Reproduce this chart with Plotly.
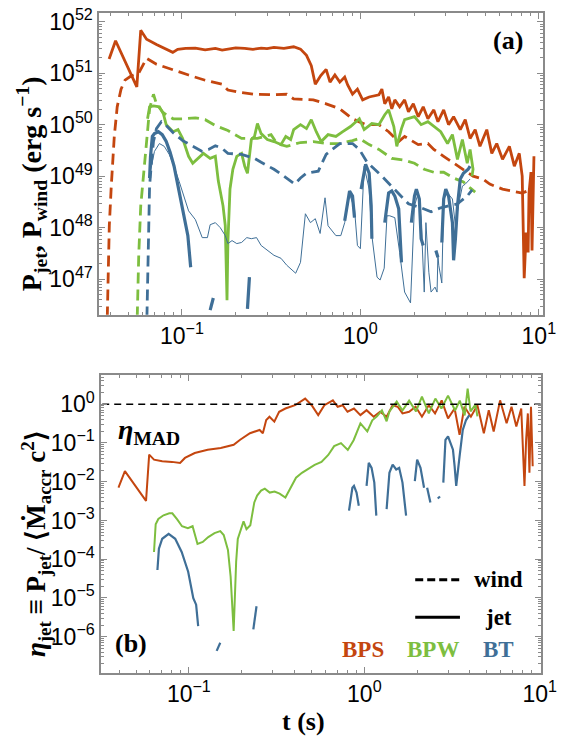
import math
import plotly.graph_objects as go

# ---------------- panel (a): jet / wind power (erg/s) vs t (s) ----------------
bps_jet_t = [0.0391, 0.0425, 0.0559, 0.0588, 0.0634, 0.0720, 0.0889, 0.0947, 0.105, 0.119,
             0.135, 0.154, 0.168, 0.181, 0.200, 0.225, 0.250, 0.278, 0.300, 0.328,
             0.373, 0.423, 0.462, 0.499, 0.531, 0.559, 0.600, 0.643, 0.676, 0.720,
             0.767, 0.817, 0.849, 0.904, 0.963, 1.03, 1.12, 1.27, 1.32, 1.37,
             1.44, 1.50, 1.56, 1.66, 1.77, 1.86, 1.98, 2.11, 2.25, 2.39,
             2.58, 2.72, 2.93, 3.12, 3.33, 3.63, 3.87, 4.12, 4.40, 4.68,
             5.11, 5.45, 5.81, 6.26, 6.84, 7.29, 7.77, 8.07, 8.28, 8.49,
             8.71, 8.81, 9.04, 9.16, 9.39]
bps_jet_p = [1.88e51, 4.26e51, 5.4e50, 6.8e51, 4.57e51, 3.6e51, 2.54e51, 2.9e51, 3.03e51, 3.07e51,
             2.85e51, 3.03e51, 2.8e51, 2.93e51, 3.1e51, 3.03e51, 2.9e51, 3.07e51, 3.0e51, 3.16e51,
             3.03e51, 3.26e51, 2.93e51, 2.22e51, 1.4e51, 6.1e50, 9.0e50, 1.19e51, 6.7e50, 9.2e50,
             6.7e50, 8.4e50, 5.9e50, 3.9e50, 4.9e50, 3.03e50, 3.45e50, 3.8e50, 4.9e50, 2.54e50,
             3.45e50, 2.03e50, 3.03e50, 2.22e50, 3.03e50, 1.78e50, 2.54e50, 1.43e50, 2.22e50, 1.30e50,
             1.94e50, 1.14e50, 1.94e50, 1.0e50, 1.43e50, 8.0e49, 1.25e50, 5.4e49, 8.0e49, 3.8e49,
             8.0e49, 2.77e49, 4.3e49, 2.12e49, 3.8e49, 1.56e49, 2.77e49, 1.0e49, 1.04e47, 8.0e47,
             3.3e47, 4.7e48, 1.2e49, 3.6e47, 2.43e49]

bps_wind_t = [0.0380, 0.0387, 0.0392, 0.0402, 0.0418, 0.0434, 0.0456, 0.0480, 0.0518, 0.0573,
              0.0611, 0.0634, 0.0720, 0.0893, 0.109, 0.135, 0.168, 0.181, 0.206, 0.255,
              0.328, 0.387, 0.423, 0.545, 0.643, 0.767, 0.904, 1.07, 1.27, 1.44,
              1.64, 1.77, 2.11, 2.39, 2.58, 2.93, 3.33, 3.78, 4.28, 4.86,
              5.31, 6.26, 7.1, 8.07, 9.16]
bps_wind_p = [8.4e45, 1.86e47, 1.09e48, 6.4e48, 5.9e49, 2.22e50, 4.9e50, 7.3e50, 8.8e50, 1.0e51,
              1.56e51, 1.94e51, 1.49e51, 1.14e51, 9.2e50, 7.3e50, 6.1e50, 4.7e50, 4.3e50, 3.9e50,
              3.8e50, 3.9e50, 3.16e50, 3.03e50, 2.54e50, 2.03e50, 1.30e50, 1.0e50, 1.0e50, 7.3e49,
              4.7e49, 5.9e49, 4.1e49, 4.3e49, 3.3e49, 2.43e49, 1.78e49, 1.36e49, 1.0e49, 8.8e48,
              7.0e48, 5.6e48, 5.15e48, 4.7e48, 5.6e48]

bpw_jet_t = [0.0642, 0.0659, 0.0693, 0.0748, 0.0787, 0.0817, 0.0893, 0.0951, 0.101, 0.109,
             0.115, 0.124, 0.132, 0.144, 0.154, 0.160, 0.170, 0.175, 0.179, 0.181,
             0.186, 0.193, 0.203, 0.216, 0.225, 0.233, 0.245, 0.255, 0.265, 0.278,
             0.301, 0.328, 0.359, 0.382, 0.407, 0.423, 0.462, 0.499, 0.531, 0.566,
             0.603, 0.659, 0.729, 0.797, 0.881, 0.987, 1.05, 1.16, 1.27, 1.37,
             1.44, 1.54, 1.60, 1.70, 1.77, 2.01, 2.19, 2.39, 2.58, 2.82,
             3.08, 3.28, 3.50, 3.73, 3.97, 4.12, 4.28, 4.22]
bpw_jet_p = [1.30e50, 2.22e50, 2.32e50, 2.22e50, 1.63e50, 1.0e50, 7.3e49, 8.0e49, 5.4e49, 2.43e49,
             1.78e49, 2.22e49, 2.77e49, 2.22e49, 2.43e49, 8.0e48, 2.65e48, 1.09e48, 3.9e46, 5.15e47,
             5.6e48, 1.36e49, 2.43e49, 2.77e49, 1.56e49, 1.14e49, 5.15e49, 5.9e49, 1.05e50, 6.7e49,
             5.15e49, 4.7e49, 4.1e49, 5.9e49, 5.15e49, 8.0e49, 1.0e50, 8.4e49, 1.25e50, 7.3e49,
             4.7e49, 6.4e49, 5.9e49, 7.3e49, 9.2e49, 1.30e50, 8.0e49, 1.05e50, 1.0e50, 1.56e50,
             1.94e50, 9.2e49, 3.8e49, 8.4e49, 1.25e50, 1.43e50, 1.0e50, 1.14e50, 9.2e49, 7.3e49,
             4.3e49, 6.4e49, 2.12e49, 5.15e49, 1.78e49, 3.3e49, 1.36e49, 1.0e49]

bpw_wind_t = [0.0559, 0.0573, 0.0588, 0.0611, 0.0634, 0.0659, 0.0693, 0.0720, 0.0787, 0.0893,
              0.101, 0.119, 0.135, 0.154, 0.181, 0.216, 0.265, 0.316, 0.341, 0.387,
              0.462, 0.545, 0.643, 0.767, 0.904, 0.987, 1.12, 1.27, 1.50, 1.77,
              2.01, 2.28, 2.58, 2.93, 3.33, 3.78, 4.12, 4.40]
bpw_wind_p = [8.4e45, 2.9e47, 2.65e48, 1.14e49, 6.4e49, 2.03e50, 3.9e50, 2.54e50, 1.70e50, 1.30e50,
              1.30e50, 1.36e50, 1.25e50, 9.6e49, 7.7e49, 5.4e49, 5.4e49, 6.4e49, 4.3e49, 3.8e49,
              4.5e49, 4.7e49, 4.3e49, 4.3e49, 4.9e49, 5.4e49, 4.1e49, 3.3e49, 2.22e49, 2.03e49,
              1.78e49, 1.36e49, 1.19e49, 1.19e49, 9.2e48, 7.7e48, 5.9e48, 4.9e48]

bt_wind_t = [0.0634, 0.0642, 0.0650, 0.0659, 0.0676, 0.0693, 0.0720, 0.0767, 0.0817, 0.0893,
             0.101, 0.115, 0.130, 0.141, 0.154, 0.168, 0.181, 0.216, 0.255, 0.278,
             0.328, 0.373, 0.429, 0.462, 0.499, 0.581, 0.643, 0.767, 0.904, 0.987,
             1.09, 1.32, 1.56, 1.86, 2.19, 2.49, 2.82, 3.50, 3.97, 4.23]
bt_wind_p = [8.4e45, 1.19e47, 1.09e48, 6.4e48, 1.94e49, 4.7e49, 8.4e49, 1.14e50, 9.6e49, 7.0e49,
             4.9e49, 3.8e49, 3.03e49, 3.3e49, 3.9e49, 3.45e49, 2.77e49, 2.65e49, 2.22e49, 1.86e49,
             1.36e49, 1.0e49, 7.0e48, 9.2e48, 1.14e49, 1.25e49, 2.65e49, 4.3e49, 4.3e49, 3.3e49,
             1.86e49, 1.0e49, 5.6e48, 2.9e48, 2.43e48, 2.03e48, 2.43e48, 2.9e48, 4.1e48, 5.4e48]

bt_jet_t = [0.0659, 0.0667, 0.0683, 0.0702, 0.0738, 0.0776, 0.0817, 0.0859, 0.0904, 0.0951,
            0.101, 0.108, 0.112, None, 0.144, 0.150, None, 0.233, 0.239, None,
            0.817, 0.849, 0.870, 0.904, 0.927, None, 1.01, 1.07, 1.12, 1.15, 1.16, None,
            1.37, 1.41, 1.44, 1.50, 1.56, 1.64, 1.70, None,
            1.93, 2.01, 2.06, 2.14, 2.19, 2.25, None, 2.65, 2.72, None,
            2.86, 2.93, 3.01, 3.12, 3.28, 3.33, 3.41, 3.50, 3.63, 3.78, 4.02, 4.12]
bt_jet_p = [9.2e48, 2.43e49, 5.9e49, 6.7e49, 7.3e49, 6.4e49, 4.7e49, 2.9e49, 1.56e49, 6.4e48,
            2.12e48, 7.0e47, 1.70e47, None, 2.5e46, 4.3e46, None, 2.65e46, 1.09e47, None,
            1.36e48, 3.6e48, 5.15e48, 4.1e48, 1.56e48, None, 5.6e48, 1.70e49, 1.14e49, 2.65e48, 6.1e47, None,
            1.25e48, 2.65e48, 4.7e48, 5.15e48, 4.1e48, 2.32e48, 2.12e47, None,
            1.25e48, 4.1e48, 5.6e48, 3.6e48, 6.1e47, 4.5e47, None, 3.6e47, 2.65e47, None,
            5.15e47, 3.6e48, 5.6e48, 4.1e48, 1.25e48, 2.32e47, 6.1e47, 2.65e48, 8.8e48, 1.14e49, 1.36e49, 1.56e49]

bt_thin_t = [0.0667, 0.0702, 0.0748, 0.0796, 0.0849, 0.0904, 0.0964, 0.103, 0.109, 0.119,
             0.130, 0.139, 0.144, 0.154, 0.164, 0.175, 0.181, 0.191, 0.203, 0.216,
             0.231, 0.245, 0.262, 0.278, 0.301, 0.328, 0.359, 0.387, 0.434, 0.462,
             0.492, 0.525, 0.559, 0.595, 0.634, 0.659, 0.729, 0.777, 0.817, 0.870,
             0.927, 0.963, 1.0, 1.05, 1.12, 1.16, 1.24, 1.29, 1.36, 1.41,
             1.46, 1.56, 1.66, 1.77, 1.91, 2.01, 2.11, 2.19, 2.28, 2.33,
             2.42, 2.49, 2.62, 2.69, 2.72, 2.75, 2.86, 2.93, 3.08, 3.28,
             3.41, 3.54, 3.73, 3.87, 4.12]
bt_thin_p = [1.25e49, 3.03e49, 4.3e49, 3.8e49, 2.65e49, 1.56e49, 8.0e48, 4.1e48, 2.12e48, 1.43e48,
             6.4e47, 6.4e47, 1.14e48, 1.25e48, 1.0e48, 7.0e47, 4.9e47, 5.6e47, 4.9e47, 5.15e47,
             6.4e47, 6.1e47, 6.4e47, 4.5e47, 3.6e47, 2.9e47, 2.54e47, 1.86e47, 1.30e47, 2.12e47,
             1.86e48, 1.25e48, 1.49e48, 7.7e47, 3.8e48, 1.09e48, 7.0e47, 7.0e47, 1.25e48, 4.5e48,
             2.32e48, 4.5e47, 3.9e47, 1.56e49, 5.6e48, 7.0e47, 1.09e47, 9.6e46, 1.63e47, 1.70e48,
             1.70e48, 1.56e48, 3.3e47, 5.6e46, 3.45e46, 2.65e48, 4.7e48, 1.49e48, 5.6e46, 1.25e48,
             1.36e47, 5.6e46, 7.0e46, 5.6e46, 2.9e47, 1.86e47, 8.4e46, 3.6e48, 4.7e48, 3.6e48,
             1.09e48, 2.65e48, 6.4e48, 7.0e48, 8.8e48]

# ---------------- panel (b): jet efficiency vs t (s) ----------------
bps_eta_t = [0.0397, 0.0432, 0.0570, 0.0594, 0.0633, 0.0705, 0.0801, 0.0891, 0.0950, 0.108,
             0.128, 0.152, 0.180, 0.196, 0.223, 0.253, 0.264, 0.276, 0.288, 0.307,
             0.327, 0.355, 0.403, 0.460, 0.501, 0.546, 0.592, 0.662, 0.705, 0.752,
             0.802, 0.873, 0.950, 1.03, 1.13, 1.23, 1.34, 1.45, 1.55, 1.65,
             1.80, 1.96, 2.13, 2.33, 2.53, 2.76, 3.00, 3.27, 3.49, 3.72,
             4.05, 4.41, 4.80, 5.12, 5.46, 5.94, 6.47, 6.90, 7.35, 7.84,
             8.18, 8.36, 8.55, 8.73, 8.91, 9.11]
bps_eta = [7.0e-3, 1.88e-2, 3.2e-3, 4.99e-2, 3.72e-2, 3.39e-2, 3.25e-2, 3.06e-2, 4.11e-2, 5.51e-2,
           6.70e-2, 7.40e-2, 8.98e-2, 0.121, 0.179, 0.217, 0.179, 0.391, 0.477, 0.356,
           0.640, 0.776, 0.943, 1.40, 0.943, 0.524, 0.943, 1.26, 0.859, 0.943,
           0.640, 0.776, 0.524, 0.703, 0.477, 0.640, 0.477, 0.943, 0.859, 0.579,
           0.640, 0.859, 0.477, 0.943, 0.579, 1.26, 0.431, 0.776, 0.162, 0.859,
           0.477, 0.943, 0.179, 0.703, 0.197, 1.26, 0.322, 0.859, 0.265, 0.776,
           7.8e-3, 0.121, 0.579, 1.70e-2, 0.859, 2.52e-2]

bpw_eta_t = [0.0633, 0.0647, 0.0670, 0.0717, 0.0774, 0.0805, 0.0858, 0.0914, 0.0987, 0.105,
             0.112, 0.120, 0.129, 0.140, 0.151, 0.158, 0.167, 0.173, 0.180, 0.186,
             0.190, 0.197, 0.205, 0.213, 0.224, 0.236, 0.245, 0.258, 0.271, 0.289,
             0.308, 0.329, 0.355, 0.373, 0.388, 0.408, 0.441, 0.482, 0.521, 0.570,
             0.623, 0.673, 0.736, 0.805, 0.869, 0.950, 1.04, 1.11, 1.18, 1.26,
             1.34, 1.39, 1.53, 1.65, 1.80, 1.97, 2.13, 2.33, 2.54, 2.75,
             3.00, 3.29, 3.50, 3.73, 3.88, 4.03, 4.30, 4.41]
bpw_eta = [1.54e-4, 8.0e-4, 1.09e-3, 1.36e-3, 1.53e-3, 1.53e-3, 1.07e-3, 7.1e-4, 6.3e-4, 7.1e-4,
           2.47e-4, 2.78e-4, 3.73e-4, 4.71e-4, 5.3e-4, 4.19e-4, 1.73e-4, 3.55e-5, 1.40e-6, 8.6e-5,
           3.31e-4, 5.6e-4, 9.5e-4, 5.97e-4, 7.55e-4, 2.92e-3, 4.40e-3, 5.91e-3, 6.64e-3, 5.25e-3,
           5.57e-3, 4.95e-3, 3.92e-3, 5.91e-3, 8.4e-3, 1.27e-2, 1.70e-2, 2.15e-2, 2.72e-2, 3.25e-2,
           4.90e-2, 8.3e-2, 9.9e-2, 6.6e-2, 0.118, 0.322, 0.200, 0.384, 0.485, 0.690,
           0.362, 0.651, 1.17, 0.690, 1.24, 0.651, 1.57, 0.579, 1.40, 0.776,
           1.67, 0.690, 1.24, 0.515, 2.52, 0.651, 0.98, 0.485]

bt_eta_t = [0.0662, 0.0675, 0.0705, 0.0767, 0.0836, 0.0910, 0.0991, 0.106, 0.110, 0.113, None,
            0.144, 0.151, None, 0.233, 0.243, None,
            0.818, 0.855, 0.873, 0.903, 0.930, None,
            1.03, 1.06, 1.10, 1.14, 1.17, None,
            1.34, 1.39, 1.45, 1.52, 1.58, 1.65, 1.73, None,
            1.94, 2.00, 2.09, 2.15, 2.19, None, 2.28, 2.38, None, 2.62, 2.70, None,
            2.82, 2.90, 3.00, 3.14, 3.20, 3.27, 3.34, 3.49, 3.64, 3.80, 3.97]
bt_eta = [5.26e-5, 1.87e-4, 3.37e-4, 4.53e-4, 3.37e-4, 1.54e-4, 4.76e-5, 9.9e-6, 6.7e-6, 1.88e-6, None,
          4.3e-7, 7.0e-7, None, 1.55e-6, 6.1e-6, None,
          1.79e-3, 7.0e-3, 7.8e-3, 5.25e-3, 2.40e-3, None,
          7.8e-3, 3.06e-2, 2.28e-2, 9.5e-3, 1.33e-3, None,
          1.97e-3, 1.70e-2, 2.77e-2, 2.07e-2, 2.28e-2, 9.5e-3, 1.33e-3, None,
          1.04e-2, 3.72e-2, 2.28e-2, 1.15e-2, 7.0e-3, None, 7.0e-3, 2.92e-3, None, 3.69e-3, 4.15e-3, None,
          9.5e-3, 0.120, 0.147, 8.98e-2, 6.70e-2, 2.52e-2, 7.8e-3, 4.54e-2, 0.217, 0.391, 0.524]

# eta_MAD reference level, drawn across the whole t range of panel (b)
eta_mad_t = [0.02, 20.0]
eta_mad = [1.0, 1.0]

# ---------------- tick labels ----------------
t_tickvals = [0.1, 1, 10]
t_ticktext = ["10<sup>−1</sup>", "10<sup>0</sup>", "10<sup>1</sup>"]
p_tickvals = [1e47, 1e48, 1e49, 1e50, 1e51, 1e52]
p_ticktext = ["10<sup>47</sup>", "10<sup>48</sup>", "10<sup>49</sup>", "10<sup>50</sup>",
              "10<sup>51</sup>", "10<sup>52</sup>"]
eta_tickvals = [1e-6, 1e-5, 1e-4, 1e-3, 1e-2, 1e-1, 1]
eta_ticktext = ["10<sup>−6</sup>", "10<sup>−5</sup>", "10<sup>−4</sup>", "10<sup>−3</sup>",
                "10<sup>−2</sup>", "10<sup>−1</sup>", "10<sup>0</sup>"]

# ---------------- styles ----------------
C_BPS = "#C4460F"
C_BPW = "#7DBE3F"
C_BT = "#3F6F97"
DASH = "11px,6px"
SERIF = "Liberation Serif"
SANS = "Liberation Sans"
FRAME = "#8a8a8a"


def minor_vals(e0, e1):
    return [m * 10.0 ** e for e in range(e0, e1 + 1) for m in range(2, 10)]


fig = go.Figure()


def add(x, y, color, width, dash=None, ax="1"):
    fig.add_trace(go.Scatter(
        x=x, y=y, mode="lines", connectgaps=False,
        line=dict(color=color, width=width, dash=dash),
        xaxis="x" if ax == "1" else "x2", yaxis="y" if ax == "1" else "y2",
        hoverinfo="skip", showlegend=False))


# panel (a)
add(bps_wind_t, bps_wind_p, C_BPS, 2.8, DASH)
add(bps_jet_t, bps_jet_p, C_BPS, 2.8)
add(bpw_wind_t, bpw_wind_p, C_BPW, 2.8, DASH)
add(bpw_jet_t, bpw_jet_p, C_BPW, 2.8)
add(bt_wind_t, bt_wind_p, C_BT, 2.8, DASH)
add(bt_thin_t, bt_thin_p, C_BT, 1.0)
add(bt_jet_t, bt_jet_p, C_BT, 3.2)
# panel (b)
add(bps_eta_t, bps_eta, C_BPS, 2.0, ax="2")
add(bpw_eta_t, bpw_eta, C_BPW, 2.0, ax="2")
add(bt_eta_t, bt_eta, C_BT, 2.2, ax="2")
add(eta_mad_t, eta_mad, "black", 1.5, "7px,5px", ax="2")

axis_common = dict(
    type="log", showgrid=False, zeroline=False, showline=True, linecolor=FRAME, linewidth=1.5,
    mirror="allticks", ticks="inside", ticklen=6, tickwidth=1.2, tickcolor=FRAME,
    tickmode="array", tickfont=dict(family=SANS, size=23, color="black"),
    ticklabeloverflow="allow",
)

W, H = 580, 738
fig.update_layout(
    width=W, height=H, margin=dict(l=0, r=0, t=0, b=0),
    paper_bgcolor="white", plot_bgcolor="white", showlegend=False,
    xaxis=dict(axis_common, domain=[102 / W, 558 / W], anchor="y",
               range=[math.log10(0.0344), math.log10(10.5)],
               tickvals=t_tickvals, ticktext=t_ticktext,
               minor=dict(tickvals=minor_vals(-2, 1), ticks="inside", ticklen=3,
                          tickcolor=FRAME, tickwidth=1)),
    yaxis=dict(axis_common, domain=[1 - 310 / H, 1 - 5 / H], anchor="x",
               range=[46.31, 52.17], tickvals=p_tickvals, ticktext=p_ticktext,
               minor=dict(tickvals=minor_vals(46, 52), ticks="inside", ticklen=3,
                          tickcolor=FRAME, tickwidth=1)),
    xaxis2=dict(axis_common, domain=[104 / W, 556 / W], anchor="y2",
                range=[-1.50, 1.005], tickvals=t_tickvals, ticktext=t_ticktext,
                minor=dict(tickvals=minor_vals(-2, 1), ticks="inside", ticklen=3,
                           tickcolor=FRAME, tickwidth=1)),
    yaxis2=dict(axis_common, domain=[1 - 672 / H, 1 - 371 / H], anchor="x2",
                range=[-6.93, 0.755], tickvals=eta_tickvals, ticktext=eta_ticktext,
                minor=dict(tickvals=minor_vals(-7, 0), ticks="inside", ticklen=3,
                           tickcolor=FRAME, tickwidth=1)),
)

# legend line samples
fig.add_shape(type="line", xref="paper", yref="paper", x0=427 / W, x1=473 / W,
              y0=1 - 578 / H, y1=1 - 578 / H, line=dict(color="black", width=3, dash="8px,4px"))
fig.add_shape(type="line", xref="paper", yref="paper", x0=427 / W, x1=473 / W,
              y0=1 - 616 / H, y1=1 - 616 / H, line=dict(color="black", width=3))


def note(text, x, y, size, color="black", angle=0):
    fig.add_annotation(text=text, x=x / W, y=1 - y / H, xref="paper", yref="paper",
                       showarrow=False, xanchor="center", yanchor="middle", textangle=angle,
                       font=dict(family=SERIF, size=size, color=color))


note("<b>P<sub>jet</sub>, P<sub>wind</sub> (erg s<sup>−1</sup>)</b>", 32, 178, 28, angle=-90)
note("<b><i>η</i><sub>jet</sub> ≡ P<sub>jet</sub>/ ⟨Ṁ<sub>accr</sub> c<sup>2</sup>⟩</b>",
     37, 541, 27, angle=-90)
note("<b>t (s)</b>", 312, 721, 26)
note("<b>(a)</b>", 522, 33, 26)
note("<b>(b)</b>", 135, 642, 26)
note("<b><i>η</i><sub>MAD</sub></b>", 153, 428, 28)
note("<b>wind</b>", 513, 578, 23)
note("<b>jet</b>", 513, 616, 23)
note("<b>BPS</b>", 373, 649, 23, C_BPS)
note("<b>BPW</b>", 445, 649, 23, C_BPW)
note("<b>BT</b>", 513, 649, 23, C_BT)

fig.write_html("out.html")
